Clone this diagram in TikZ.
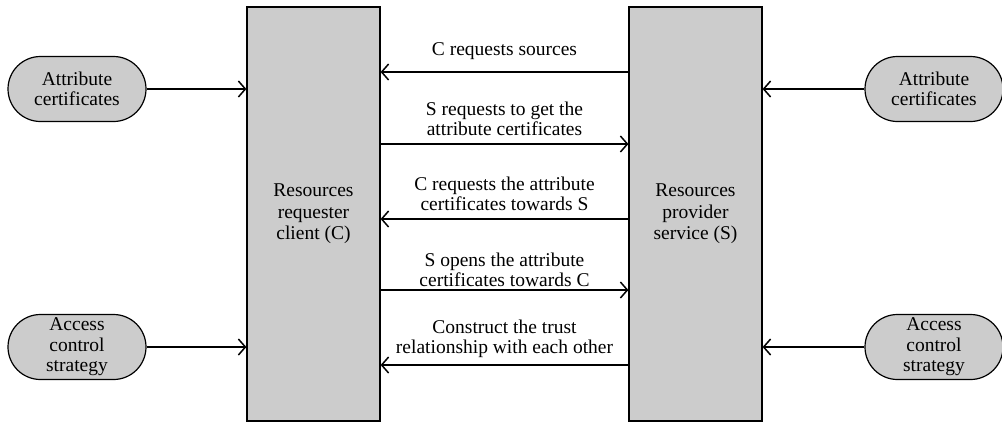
\documentclass[tikz,border=0pt]{standalone}
\usepackage{fontspec}
\setmainfont{Liberation Serif}
\usetikzlibrary{shapes.misc,arrows.meta}
\definecolor{boxgray}{RGB}{204,204,204}
\tikzset{
  party/.style={draw=black, line width=1.2pt, fill=boxgray, minimum width=133pt,
    minimum height=414pt, align=center, font=\fontsize{19.5}{21.5}\selectfont},
  pill/.style={rounded rectangle, draw=black, line width=1.2pt, fill=boxgray,
    minimum width=138pt, minimum height=65pt, inner sep=0pt, align=center,
    font=\fontsize{19.5}{20.5}\selectfont},
  msg/.style={line width=1.5pt, -{Straight Barb[length=7pt,width=16pt,line width=1.5pt]}},
  lbl/.style={anchor=south, align=center, inner xsep=0pt, text depth=0pt,
    font=\fontsize{19.5}{20}\selectfont}
}
\begin{document}
\begin{tikzpicture}[x=1pt,y=-1pt]
\useasboundingbox (0,0) rectangle (1002,429);

% the two parties
\node[party] (C) at (313.5,214) {Resources\\requester\\client (C)};
\node[party] (S) at (695.5,214) {Resources\\provider\\service (S)};

% inputs on both sides
\node[pill] (ACl) at (77,89) {Attribute\\certificates};
\node[pill] (SCl) at (77,347) {Access\\control\\strategy};
\node[pill] (ACr) at (934,89) {Attribute\\certificates};
\node[pill] (SCr) at (934,347) {Access\\control\\strategy};

\draw[msg] (ACl.east) -- (C.west |- ACl.east);
\draw[msg] (SCl.east) -- (C.west |- SCl.east);
\draw[msg] (ACr.west) -- (S.east |- ACr.west);
\draw[msg] (SCr.west) -- (S.east |- SCr.west);

% messages between client and service
\coordinate (m1) at (504.5,72);
\coordinate (m2) at (504.5,144);
\coordinate (m3) at (504.5,219);
\coordinate (m4) at (504.5,290);
\coordinate (m5) at (504.5,365);

\draw[msg] (S.west |- m1) -- (C.east |- m1);
\draw[msg] (C.east |- m2) -- (S.west |- m2);
\draw[msg] (S.west |- m3) -- (C.east |- m3);
\draw[msg] (C.east |- m4) -- (S.west |- m4);
\draw[msg] (S.west |- m5) -- (C.east |- m5);

% labels: inner ysep is the gap from the last baseline to the arrow
\node[lbl, inner ysep=16pt] (t1) at (m1) {C requests sources};
\node[lbl, inner ysep=8pt] (t2) at (m2) {S requests to get the\\attribute certificates};
\node[lbl, inner ysep=8pt] (t3) at (m3) {C requests the attribute\\certificates towards S};
\node[lbl, inner ysep=3pt] (t4) at (m4) {S opens the attribute\\certificates towards C};
\node[lbl, inner ysep=11pt] (t5) at (m5) {Construct the trust\\relationship with each other};
\end{tikzpicture}
\end{document}
